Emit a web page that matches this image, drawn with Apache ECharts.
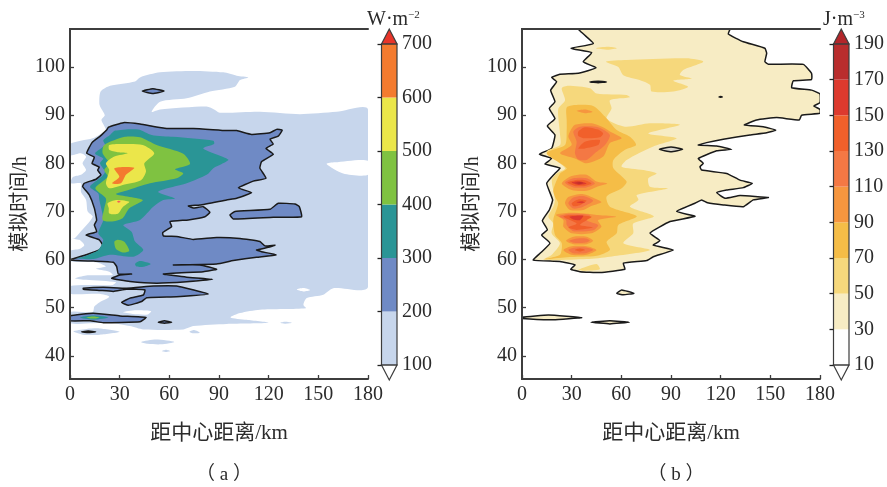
<!DOCTYPE html>
<html><head><meta charset="utf-8">
<style>html,body{margin:0;padding:0;background:#fff}#c{width:887px;height:487px}</style>
<script src="https://cdn.jsdelivr.net/npm/echarts@6/dist/echarts.min.js"></script>
</head><body><div id="c"></div>
<script>
// ---------- axes ----------
const xTicks = [0,30,60,90,120,150,180];
const yTicks = [40,50,60,70,80,90,100];
const xLabelText = '距中心距离/km';
const yLabelText = '模拟时间/h';
// ---------- colour bars ----------
const levelsA = [100,200,300,400,500,600,700];
const colorsA = ['#c7d6ec','#6f8ac5','#2a9596','#7fc241','#ebe64a','#f47b2f'];
const levelsB = [10,30,50,70,90,110,130,150,170,190];
const colorsB = ['#ffffff','#f7ecc4','#f6d87c','#f5bd47','#f6963f','#f47844','#f1602b','#dd3a2e','#b92d2d'];
// ---------- panel (a): [km, hour] outlines per contour level ----------
const a100Main = [[17.7,92.45],[18.5,94.9],[24.2,96.1],[39.3,97],[42.3,97.85],[54.4,98.9],[74.5,99.2],[92.6,98.9],[100.7,98.2],[107.7,97.85],[102.7,97.3],[99.6,95.9],[84.5,94.9],[70.5,93.5],[54.4,92.8],[49.3,90.7],[54.4,91.2],[82.5,91.8],[87.6,91.1],[90.6,90.5],[114.7,90.7],[138.9,90.2],[161,90.7],[180,91.2],[180,54.3],[159,54.05],[153,52.7],[143,52],[141,50.6],[142.5,49.9],[114.7,49.6],[102.7,48.9],[97,48],[106.7,47.5],[119.8,46.9],[94.6,46.65],[74.5,46.2],[68.4,45.5],[44.3,45.5],[36.2,46.2],[24.2,46.9],[0,46.8],[0,49.1],[13.7,49.1],[14.7,50.25],[17.7,51.1],[23.7,52.3],[17.7,52.9],[0,52.9],[0,54.5],[25.8,54.75],[27.8,55.3],[9.7,55.8],[3.2,56.1],[9.7,56.7],[25.8,56.8],[23.7,57.5],[15.7,58.1],[21.7,58.55],[15.7,59.45],[0,59.7],[0,61.8],[5.6,62.2],[8.6,63],[5.6,64.1],[0,64.3],[2.6,64.4],[5.6,65.5],[13.7,68.9],[10.7,70],[9.7,72.4],[6.6,74.1],[6.6,75.85],[0.6,75.85],[1.6,77.1],[6.6,77.6],[9.7,78.6],[7.6,80],[9.7,81.4],[6.6,82.1],[0,81.7],[0,84],[13.7,85.2],[17.7,85.9],[21.7,86.9],[19,89],[21,90],[18.5,91.6]];
const a100Patch1 = [[2,45.1],[10,45.6],[18,45.7],[30,45],[18,44.4],[8,44.4]];
const a100Patch2 = [[43,42.9],[52,43.4],[63,42.9],[55,42.4],[47,42.5]];
const a100Patch3 = [[55.5,41],[58,41.3],[60.5,41],[58,40.8]];
const a100Patch4 = [[72,45],[75,45.4],[78.5,44.8],[74,44.7]];
const a100Patch5 = [[127,46.9],[130,47.1],[134,46.9],[130,46.7]];
const aHole1 = [[155,79.85],[160,80.2],[180,80.55],[180,77.6],[165,77.9]];
const aHole2 = [[137,53.8],[141,54.1],[145,53.7],[141,53.4]];
const aHole3 = [[32,49.1],[40,49.5],[49,49.3],[47,48.6],[38,48.7]];
const a200Main = [[19.1,85.9],[22.1,86.9],[23.2,87.5],[32.2,88.45],[42.3,88.15],[58.4,87.25],[74.5,87.25],[94.6,86.8],[100.7,86.8],[109.7,86],[120.8,86.35],[124.8,87.05],[128.2,86.9],[125.8,85.65],[120.8,85],[122.8,84],[118.4,83.1],[122.8,81.9],[115.7,80.35],[114.7,79],[118.4,76.9],[110.7,76.3],[101.7,74.9],[109.7,73.9],[100.7,72.75],[94.6,72.4],[78.5,71.35],[71.5,71.15],[74.5,70.7],[80.5,71],[84.5,69.85],[81.5,68.9],[71.5,68.25],[60.4,67.9],[61.4,66.85],[56,65.6],[56.4,64.9],[64.4,64.8],[74.5,64.2],[88.6,64.6],[102.7,64.4],[114.7,63.75],[117.8,62.85],[123.8,63],[119.8,62.55],[112.7,62],[115.7,61.65],[124.4,60.97],[112.7,60.5],[98.6,59.8],[88.6,59.1],[62.4,58.9],[78.5,58.9],[88.6,58],[80.5,57.5],[56.4,57],[70.5,56.35],[86.2,55.9],[70.5,55.4],[52.3,55.1],[36.2,55.45],[25.2,56.1],[30.2,56.8],[37.2,57],[29.2,57],[28.2,58.55],[26.2,59.45],[14.1,59.7],[0,59.9],[9.7,61],[17.7,62],[19.7,63],[17.7,64.1],[9.7,65.1],[16.1,65.8],[14.7,67.2],[16.1,68.2],[14.7,70.7],[11.7,73.4],[7.6,75.2],[8.6,75.85],[15.7,76.7],[18.7,77.6],[16.7,78.6],[17.7,79.2],[13.3,80],[14.7,81.25],[10.1,82.1],[13.3,84.3],[17.7,85.5]];
const a200Island = [[96.6,69.3],[99.6,70],[120.8,70.45],[125.8,71.7],[135.9,71.55],[138.5,71],[139.9,68.9],[122.8,68.8],[98.6,68.45]];
const a200Band1 = [[8,54.05],[20.1,54.25],[34.2,54.05],[50.3,54.5],[64.4,54.5],[83.5,52.85],[64.4,52.3],[46.3,52.1],[43.3,51.3],[35.2,50.5],[31.2,51.1],[36.2,52],[44.3,52.65],[45.3,53.7],[34.2,53.85],[26.2,53.4],[18.1,53.6],[8,53.85]];
const a200Band2 = [[0,48.3],[14.1,48.85],[30.2,48.3],[45.9,48],[42.3,47.1],[20.1,46.9],[12.1,47.3],[0,47.3]];
const a200Dot1 = [[53.3,47],[57,47.3],[61.4,47],[57,46.8]];
const a200Dot2 = [[7,45],[11,45.15],[15.5,45],[11,44.85]];
const a200Dot3 = [[43.7,95],[50,95.5],[56.8,95],[50,94.5]];
const a300Main = [[24.2,85.9],[27.2,86.8],[41.3,87.05],[49.3,85.9],[62.4,85.5],[86.6,84.7],[87,84],[80.5,83.1],[95.6,80.8],[91.6,79.85],[86.6,79],[82.5,77.6],[70.5,75.85],[53.3,74.1],[63.4,72.7],[56.4,72.4],[50.3,71],[42.3,68.25],[32.2,67.2],[37.2,65.8],[39.3,63.75],[44.3,62],[38.2,60.6],[24.2,61],[14.1,60.1],[4,60.3],[8,60.6],[17.1,62],[20.1,64.1],[17.1,65.5],[20.1,68.25],[19.1,70.3],[17.7,72.4],[17.1,73.75],[12.1,75.15],[19.1,77.2],[21.1,78.25],[18.1,80],[20.1,81],[15.1,82.05],[21.1,83.8],[20.1,84.8]];
const a300Blob = [[39.3,59.1],[42.3,59.7],[48.7,59.1],[44.3,58.5],[40.3,58.55]];
const a300Band = [[6,48],[14.1,48.4],[23.2,48],[14.1,47.55]];
const a400Main = [[20.7,83.8],[33.2,85.5],[42.3,85.4],[52.3,83.8],[68.4,82],[72.5,79.85],[63.4,78.75],[68.4,77.9],[64.4,76.9],[48.3,75.85],[33.8,74.3],[27.8,73.6],[43.9,72.4],[35.8,70.65],[31.8,68.6],[24.8,67.9],[19.7,68.25],[20.7,70.65],[21.7,72.7],[15.3,74.8],[22.7,77.2],[20.7,78.6],[23.7,80],[19.7,82.1]];
const a400Blob = [[26.8,63.7],[28.8,64.1],[32.8,63.7],[35.8,61.8],[31.8,61.5],[27.8,62.2]];
const a400Band = [[10,48],[14,48.2],[17.7,48],[14,47.75]];
const a500Main = [[23.7,83.8],[31.8,84],[43.9,83.8],[50.9,82.1],[44.9,80],[45.9,78.3],[42.9,76.5],[31.8,75.5],[23.7,74.8],[21.7,75.85],[23.7,78.6],[21.7,80],[26.8,81.4],[34.8,82.1],[28.8,82.3],[23.7,82.8]];
const a500Blob = [[22.7,71.7],[27.8,72.4],[35.8,72],[31.8,70.9],[28.8,69.5],[23.7,69.6],[23.4,70.7]];
const a600Main = [[26.8,79],[38.8,79.1],[33.8,77.6],[30.8,75.85],[25.4,75.85],[29.8,77.2]];
const a600Dot = [[28.4,72],[29.4,72.2],[30.6,72],[29.4,71.8]];
// ---------- panel (b) ----------
const b30Main = [[125.6,108],[124.6,106.85],[133.7,105.25],[146.7,103.9],[147.8,102.85],[146.7,101.1],[148.8,100.6],[169.9,100.55],[174.9,98.7],[174.9,97.4],[163.9,97.15],[162.9,95.7],[174.9,95.2],[180,94.4],[180,92.6],[176.3,91.9],[180,91.2],[180,90.4],[168.9,90],[167.5,89],[153.8,89.5],[141.7,89],[134.3,87.95],[145.7,87.6],[153.2,86.9],[147.8,86.35],[137.7,85.9],[121.6,85],[111.5,84.3],[106.5,83.8],[117.6,83.6],[126.6,82.9],[117.6,82.6],[106.5,81],[109.5,80],[107.5,79.3],[108.5,78.6],[123.6,77.9],[131.7,76.5],[139.1,75.85],[133.7,74.95],[123.6,74.45],[117.6,73.9],[122.6,72.75],[131.7,73.3],[148.8,72.9],[139.7,72.4],[133.7,71],[121.6,71.35],[112.1,71.8],[108.5,72.4],[104.5,71.7],[93.4,70],[104.5,69],[89.4,67.9],[77.3,65.5],[83.3,63.95],[79.3,63],[91.4,62],[79.3,60.6],[75.3,59.8],[61.2,59.25],[62.2,58],[47.1,57.3],[35,57.5],[29.4,58],[32,58.9],[22.9,59.6],[6.8,59.9],[10.9,61.3],[16.9,63.4],[11.9,65.1],[15.3,66.2],[12.3,68.1],[16.5,70.3],[18.5,72.4],[14.9,75.85],[19.9,77.9],[22.9,79],[13.9,79.85],[17.9,81],[10.5,81.9],[17.9,83.1],[19.9,85.9],[15.3,87.75],[19.9,89.3],[16.5,91.4],[19.9,92.8],[17.3,95.2],[20.9,96.95],[17.9,97.85],[22.9,98.5],[34,98.7],[44.7,99.85],[37,101.1],[42.1,103],[29.6,103.9],[43.1,104.9],[34,108]];
const b30Slit1 = [[41,96.9],[46,97.05],[51,96.9],[46,96.75]];
const b30Slit2 = [[119,93.8],[120,93.9],[121,93.8],[120,93.7]];
const b30Slit3 = [[83,82.9],[90,83.4],[97,82.9],[90,82.4]];
const b30Isle1 = [[57.2,53],[60.2,53.7],[67.6,53],[61.2,52.7]];
const b30Isle2 = [[0,48],[16,48.5],[36,47.95],[18.9,47.5],[0,47.75]];
const b30Isle3 = [[41.7,47],[53.1,47.3],[64.8,47],[53.1,46.65]];
const b50Upper = [[50.7,101.1],[63.2,101.45],[99.4,101.8],[109.5,101.1],[97.4,99.4],[95.4,98.35],[102.5,97.6],[91.4,97.15],[100.4,95.9],[91.4,94.9],[78.3,94.9],[77.3,96.3],[71,97.3],[61.2,98.3],[58.2,100]];
const b50Small = [[44.7,103.9],[52,104.2],[57.2,103.9],[52,103.6]];
const b50Low = [[34,57.9],[45,59.1],[47,58],[37,57.7]];
const b50Main = [[24,95.6],[28,96.1],[41,95.6],[45.1,94.5],[63.2,94.2],[65.2,93.7],[53.1,93.1],[54.1,91.4],[51.1,89.3],[62.2,87.6],[77.3,88.3],[95.4,88],[76.3,86.2],[93.4,85.2],[79.3,83.5],[63.2,80.7],[60.2,79.3],[73.3,78.6],[81.3,77.9],[76.3,76.9],[77.3,75.15],[88.4,74.8],[69.3,73.4],[70.3,72.4],[65.2,71],[79.7,69],[67.2,67.5],[67.2,65.5],[61.2,63.4],[77.3,62],[53.1,60.6],[39,60.1],[13,59.95],[18,61],[22.9,63.4],[17.9,65.5],[18.9,67.5],[15.9,68.9],[18.9,71],[19.9,72.4],[18,76.5],[21,77.9],[26,79],[14.9,82.4],[23,83.8],[23,85.9],[22,89.3],[22,91.4],[26,93.1]];
const b70Main = [[27,91.6],[32,92.1],[43,91.9],[50.1,89.7],[57.2,86.9],[65.2,85.5],[68.9,83.8],[62.2,82.8],[55.2,80.7],[55.2,79],[63.2,76.2],[60.2,74.8],[51.1,73.1],[53.1,71],[69.3,69],[58.2,67.2],[57.2,65.5],[51.1,63.7],[53.1,62],[45.1,60.8],[27,60.5],[13.9,60.1],[22.9,61],[24,63.4],[20,65.1],[18.9,68.25],[21.9,71.7],[20,73],[18.9,74.45],[23,77.9],[27,79],[14.9,82.1],[26,83.8],[27,86.9],[27,89]];
const b90Top = [[33,90.9],[38,91.2],[42.7,90.7],[38,90.4]];
const b90Big = [[29,86.6],[32,88],[42,88.3],[50.1,87.3],[53.1,86.6],[60.2,85.2],[53.1,84.2],[49.1,81.4],[39,80],[32,81],[23,82.1],[30,83.8],[28,85.5]];
const b110Big = [[31,86.6],[35,87.6],[46,87.5],[53.1,85.9],[50.1,83.8],[44,82.1],[39,80.7],[34,80.8],[32,82.1],[33,84.5]];
const b130Big1 = [[34,86.6],[38,87.5],[46,87],[49,86.2],[47,85.4],[38,85.2],[34,85.7]];
const b130Big2 = [[34,83.1],[38,84.5],[47,84.85],[46,83.8],[38,83.1]];
const b90L76 = [[24,75.8],[30,77.35],[39,77.6],[45,76.2],[51.5,75.8],[45,75.1],[39,74.3],[30,74.45]];
const b110L76 = [[26,76],[31,76.9],[39,76.9],[44,75.8],[39,75],[31,75]];
const b130L76 = [[27.4,76],[32,76.5],[38,76.5],[42,75.8],[38,75.3],[32,75.3]];
const b150L76 = [[30,76],[34,76.25],[39,75.8],[34,75.5]];
const b170L76 = [[32,75.9],[35,76.05],[37,75.9],[35,75.75]];
const b90L72 = [[26,71.7],[28,73],[37,73.6],[46,72.4],[48,71.9],[41,71],[37,70.3],[29,70.3]];
const b110L72 = [[28,71.7],[31,72.9],[37,73.2],[43,72.2],[37,71],[31,70.6]];
const b130L72 = [[30,71.7],[34,72.5],[39,72.2],[35,71.3],[31,71.1]];
const b150L72 = [[33,71.9],[36,72.1],[38,71.9],[36,71.7]];
const b90L68 = [[20.5,69.3],[29,69.75],[38,69.6],[46,69.25],[57,68.9],[46,68.2],[48,66.8],[42,65.45],[30,65.45],[25,66.8],[25,68.2]];
const b110L68 = [[22.5,69],[29,69.5],[41,69.25],[39,68.2],[46,67.2],[43,66.1],[31,65.9],[27,67.2],[26.6,68.2]];
const b130L68 = [[25,68.9],[30,69.25],[42,68.9],[39,68.2],[35,67.2],[43,66.7],[33,66.15],[28,66.7],[33,67.5]];
const b150L68 = [[28.6,68.9],[37,69.1],[35,68.2],[31,68.35]];
const b90L64 = [[26.6,63.9],[31,64.75],[39,64.75],[43,63.9],[39,63.2],[31,63.2]];
const b110L64 = [[28.6,63.9],[33,64.4],[39,64.4],[41,63.9],[38,63.5],[31,63.5]];
const b90L61 = [[25,62],[30,62.8],[39,62.8],[45,62],[39,61],[30,61]];
const b110L61 = [[28,62],[32,62.5],[39,62.5],[43,62],[38,61.3],[31,61.3]];
const b130L61 = [[32,62],[35,62.3],[38,62],[35,61.7]];

const WHITE = '#ffffff';
const INK = '#1a1a1a';
const layersA = [
  [a100Main,colorsA[0]],[a100Patch1,colorsA[0]],[a100Patch2,colorsA[0]],[a100Patch3,colorsA[0]],[a100Patch4,colorsA[0]],[a100Patch5,colorsA[0]],
  [aHole1,WHITE],[aHole2,WHITE],[aHole3,WHITE],
  [a200Main,colorsA[1],1],[a200Island,colorsA[1],1],[a200Band1,colorsA[1],1],[a200Band2,colorsA[1],1],[a200Dot1,colorsA[1],1],[a200Dot2,colorsA[1],1],[a200Dot3,colorsA[1],1],
  [a300Main,colorsA[2]],[a300Blob,colorsA[2]],[a300Band,colorsA[2]],
  [a400Main,colorsA[3]],[a400Blob,colorsA[3]],[a400Band,colorsA[3]],
  [a500Main,colorsA[4]],[a500Blob,colorsA[4]],
  [a600Main,colorsA[5]],[a600Dot,'#f2605a']
];
const layersB = [
  [b30Main,colorsB[1],1],[b30Slit1,colorsB[1],1],[b30Slit2,colorsB[1],1],[b30Slit3,'#d9d6cc',1],[b30Isle1,colorsB[1],1],[b30Isle2,colorsB[1],1],[b30Isle3,colorsB[1],1],
  [b50Upper,colorsB[2]],[b50Small,colorsB[2]],[b50Low,colorsB[2]],[b50Main,colorsB[2]],
  [b70Main,colorsB[3]],
  [b90Top,colorsB[4]],[b90Big,colorsB[4]],[b90L76,colorsB[4]],[b90L72,colorsB[4]],[b90L68,colorsB[4]],[b90L64,colorsB[4]],[b90L61,colorsB[4]],
  [b110Big,colorsB[5]],[b110L76,colorsB[5]],[b110L72,colorsB[5]],[b110L68,colorsB[5]],[b110L64,colorsB[5]],[b110L61,colorsB[5]],
  [b130Big1,colorsB[6]],[b130Big2,colorsB[6]],[b130L76,colorsB[6]],[b130L72,colorsB[6]],[b130L68,colorsB[6]],[b130L61,colorsB[6]],
  [b150L76,colorsB[7]],[b150L72,colorsB[7]],[b150L68,colorsB[7]],
  [b170L76,colorsB[8]]
];

const SERIF = '"Liberation Serif","Noto Sans CJK SC",serif';
const AX = '#3d3d3d';
const txt = {color:'#2b2b2b',fontFamily:SERIF,fontSize:20};

function plotSeries(layers,idx){
  return {type:'custom',coordinateSystem:'cartesian2d',xAxisIndex:idx,yAxisIndex:idx,clip:true,silent:true,z:2,
    data:layers.map((l,i)=>[i]),
    encode:{x:[],y:[]},
    renderItem:function(p,api){
      const l=layers[p.dataIndex];
      return {type:'polygon',shape:{points:l[0].map(c=>api.coord(c)),smooth:l[2]?0.12:0.25},
        style:{fill:l[1],stroke:l[2]?INK:null,lineWidth:l[2]?1.5:0,lineJoin:'round'}};
    }};
}
function barSeries(levels,colors,idx,tipColor){
  const span=levels[levels.length-1]-levels[0];
  const tip=span*15/321;
  const items=colors.map((c,i)=>({lo:levels[i],hi:levels[i+1],c}));
  const top=levels[levels.length-1], bot=levels[0];
  const shapes=items.map(b=>({kind:'rect',...b}));
  shapes.push({kind:'up',c:tipColor},{kind:'down',c:'#ffffff'},{kind:'frame'});
  return {type:'custom',coordinateSystem:'cartesian2d',xAxisIndex:idx,yAxisIndex:idx,clip:false,silent:true,z:2,
    data:shapes.map((s,i)=>[i]),encode:{x:[],y:[]},
    renderItem:function(p,api){
      const s=shapes[p.dataIndex];
      if(s.kind==='rect'){
        const a=api.coord([0,s.hi]),b=api.coord([1,s.lo]);
        return {type:'rect',shape:{x:a[0],y:a[1],width:b[0]-a[0],height:b[1]-a[1]},style:{fill:s.c}};
      }
      if(s.kind==='frame'){
        const a=api.coord([0,top]),b=api.coord([1,bot]);
        return {type:'rect',shape:{x:a[0],y:a[1],width:b[0]-a[0],height:b[1]-a[1]},style:{fill:null,stroke:AX,lineWidth:1.2}};
      }
      const pts=s.kind==='up'?[[0,top],[0.5,top+tip],[1,top]]:[[0,bot],[0.5,bot-tip],[1,bot]];
      return {type:'polygon',shape:{points:pts.map(c=>api.coord(c))},style:{fill:s.c,stroke:AX,lineWidth:1.2,lineJoin:'miter'}};
    }};
}
function plotAxes(g){
  const xs=[{gridIndex:g,type:'value',min:0,max:180,position:'bottom',z:10,
      axisLine:{show:true,lineStyle:{color:AX,width:2}},
      axisTick:{show:true,inside:true,length:4,customValues:xTicks,lineStyle:{color:AX,width:1.3}},
      axisLabel:{...txt,margin:6,customValues:xTicks},splitLine:{show:false},
      name:xLabelText,nameLocation:'middle',nameGap:44,nameTextStyle:{...txt,fontSize:21}}];
  const ys=[{gridIndex:g,type:'value',min:35.2,max:107.9,position:'left',z:10,
      axisLine:{show:true,lineStyle:{color:AX,width:2}},
      axisTick:{show:true,inside:true,length:4,customValues:yTicks,lineStyle:{color:AX,width:1.3}},
      axisLabel:{...txt,margin:5,customValues:yTicks},splitLine:{show:false},
      name:yLabelText,nameLocation:'middle',nameGap:38,nameRotate:90,nameTextStyle:{...txt,fontSize:20}}];
  return {xs,ys};
}
const pa=plotAxes(0), pb=plotAxes(1);
function frameAxes(g){
  return {x:{gridIndex:g,type:'value',min:0,max:180,position:'top',z:10,axisLine:{show:true,lineStyle:{color:AX,width:2}},axisTick:{show:false},axisLabel:{show:false},splitLine:{show:false}},
          y:{gridIndex:g,type:'value',min:35.2,max:107.9,position:'right',z:10,axisLine:{show:true,lineStyle:{color:AX,width:2}},axisTick:{show:false},axisLabel:{show:false},splitLine:{show:false}}};
}
function barAxes(g,levels){
  return {x:{gridIndex:g,type:'value',min:0,max:1,show:false},
          y:{gridIndex:g,type:'value',min:levels[0],max:levels[levels.length-1],position:'right',z:10,
             axisLine:{show:false},
             axisTick:{show:true,inside:true,length:4,customValues:levels,lineStyle:{color:'#222',width:1.3}},
             axisLabel:{...txt,margin:5,customValues:levels},splitLine:{show:false}}};
}
const fa=frameAxes(0),fb=frameAxes(1),ba=barAxes(2,levelsA),bb=barAxes(3,levelsB);
const unit=(t,sup)=>t+'{s|'+sup+'}';
const unitStyle={...txt,fontSize:20,fontWeight:'normal',rich:{s:{fontFamily:SERIF,fontSize:11,color:'#2b2b2b',verticalAlign:'top',lineHeight:14,padding:[0,0,8,0]}}};
const option={
  animation:false,backgroundColor:'#fff',
  grid:[
    {left:70,top:29,width:298,height:350},
    {left:522,top:29,width:298,height:350},
    {left:381.5,top:44,width:15.5,height:321},
    {left:833.5,top:44,width:15.5,height:321}
  ],
  xAxis:[pa.xs[0],pb.xs[0],ba.x,bb.x,fa.x,fb.x],
  yAxis:[pa.ys[0],pb.ys[0],ba.y,bb.y,{...fa.y,gridIndex:0},{...fb.y,gridIndex:1}],
  title:[
    {text:unit('W·m','−2'),left:362,top:5,textStyle:unitStyle},
    {text:unit('J·m','−3'),left:818,top:5,textStyle:unitStyle},
    {text:'（ a ）',left:219,top:461,textAlign:'center',textStyle:{...txt,fontSize:19,fontWeight:'normal'}},
    {text:'（ b ）',left:671,top:461,textAlign:'center',textStyle:{...txt,fontSize:19,fontWeight:'normal'}}
  ],
  series:[plotSeries(layersA,0),plotSeries(layersB,1),barSeries(levelsA,colorsA,2,'#e8352a'),barSeries(levelsB,colorsB,3,'#b3262a')]
};
echarts.init(document.getElementById('c'),null,{renderer:'canvas'}).setOption(option);
</script></body></html>
